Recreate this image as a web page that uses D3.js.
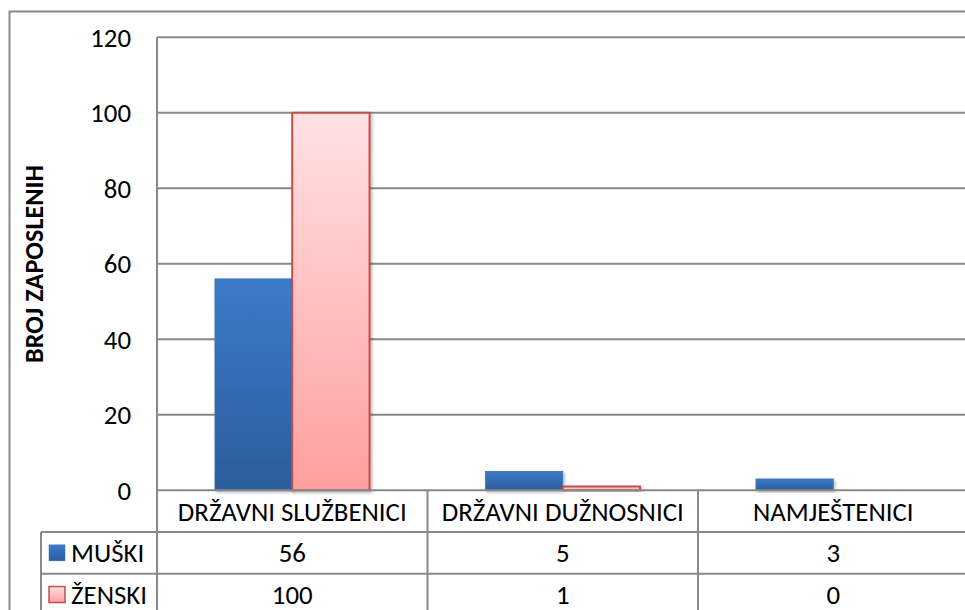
<!DOCTYPE html>
<html>
<head>
<meta charset="utf-8">
<script src="https://cdn.jsdelivr.net/npm/d3@7"></script>
<style>
  html, body { margin: 0; padding: 0; background: #fff; overflow: hidden; }
  svg { display: block; }
  text { font-family: Carlito, Lato, "Open Sans", sans-serif; fill: #000; }
</style>
</head>
<body>
<svg id="chart" width="965" height="610"></svg>
<script>
const categories = ["DRŽAVNI SLUŽBENICI", "DRŽAVNI DUŽNOSNICI", "NAMJEŠTENICI"];
const seriesNames = ["MUŠKI", "ŽENSKI"];
const muski = [56, 5, 3];
const zenski = [100, 1, 0];
const yTicks = [0, 20, 40, 60, 80, 100, 120];
const yTitle = "BROJ ZAPOSLENIH";

const seriesValues = [muski, zenski];
const svg = d3.select("#chart");
const W = 965, H = 610;

const plotLeft = 157, plotTop = 37.3, plotBottom = 490.3, catW = 270.5;
const rowH = 41.7;
const legendLeft = 41;
const gridColor = "#898989";

const y = d3.scaleLinear().domain([0, 120]).range([plotBottom, plotTop]);
const x = d3.scaleBand().domain(categories).range([plotLeft, plotLeft + catW * categories.length]).paddingInner(0).paddingOuter(0);
const xs = d3.scaleBand().domain(seriesNames).range([0, x.bandwidth()]).paddingInner(0).paddingOuter(0.75);

const defs = svg.append("defs");
const gBlue = defs.append("linearGradient").attr("id", "gBlue").attr("x1", 0).attr("y1", 0).attr("x2", 0).attr("y2", 1);
gBlue.append("stop").attr("offset", 0).attr("stop-color", "#3b7bca");
gBlue.append("stop").attr("offset", 1).attr("stop-color", "#2c5d9b");
const gPink = defs.append("linearGradient").attr("id", "gPink").attr("x1", 0).attr("y1", 0).attr("x2", 0).attr("y2", 1);
gPink.append("stop").attr("offset", 0).attr("stop-color", "#ffe1e3");
gPink.append("stop").attr("offset", 1).attr("stop-color", "#ff9f9f");
const sh = defs.append("filter").attr("id", "shadow").attr("x", "-20%").attr("y", "-20%").attr("width", "140%").attr("height", "140%");
sh.append("feDropShadow").attr("dx", 1.5).attr("dy", 1.5).attr("stdDeviation", 1.5).attr("flood-color", "#000").attr("flood-opacity", 0.3);

const fills = ["url(#gBlue)", "url(#gPink)"];
const strokes = ["#3c72b4", "#c0504d"];
const strokeW = [0.8, 2];

// outer chart border
svg.append("rect").attr("x", 9.5).attr("y", 11.5).attr("width", W + 20).attr("height", H + 20)
  .attr("fill", "none").attr("stroke", gridColor).attr("stroke-width", 2);

// gridlines
svg.append("g").selectAll("line").data(yTicks.filter(d => d > 0)).join("line")
  .attr("x1", plotLeft).attr("x2", W + 10)
  .attr("y1", d => y(d)).attr("y2", d => y(d))
  .attr("stroke", gridColor).attr("stroke-width", 2);

// bars
const bars = svg.append("g");
seriesNames.forEach((s, si) => {
  bars.append("g").selectAll("rect").data(categories.map((c, ci) => ({c, v: seriesValues[si][ci]})).filter(d => d.v > 0)).join("rect")
    .attr("x", d => x(d.c) + xs(s))
    .attr("y", d => y(d.v))
    .attr("width", xs.bandwidth())
    .attr("height", d => y(0) - y(d.v))
    .attr("fill", fills[si])
    .attr("stroke", strokes[si])
    .attr("stroke-width", strokeW[si])
    .attr("filter", "url(#shadow)");
});

// table lines
const tbl = svg.append("g").attr("stroke", gridColor).attr("stroke-width", 2);
// axis baseline / table top
tbl.append("line").attr("x1", plotLeft).attr("x2", W + 10).attr("y1", plotBottom).attr("y2", plotBottom);
// row lines
[1, 2].forEach(r => {
  tbl.append("line").attr("x1", legendLeft).attr("x2", W + 10)
    .attr("y1", plotBottom + rowH * r).attr("y2", plotBottom + rowH * r);
});
// left axis line
tbl.append("line").attr("x1", plotLeft).attr("x2", plotLeft).attr("y1", plotTop).attr("y2", H + 10);
// category separators
categories.slice(1).forEach(c => {
  tbl.append("line").attr("x1", x(c)).attr("x2", x(c)).attr("y1", plotBottom).attr("y2", H + 10);
});
// legend column left line
tbl.append("line").attr("x1", legendLeft).attr("x2", legendLeft).attr("y1", plotBottom + rowH).attr("y2", H + 10);

// y tick labels
const tickG = svg.append("g").selectAll("text").data(yTicks).join("text")
  .attr("x", 131).attr("y", d => y(d)).attr("dy", "0.35em")
  .attr("text-anchor", "end").text(d => d);

// category labels
const catText = svg.append("g").selectAll("text").data(categories).join("text")
  .attr("x", d => x(d) + x.bandwidth() / 2).attr("y", plotBottom + rowH / 2).attr("dy", "0.35em")
  .attr("text-anchor", "middle").text(d => d);

// values in table
const valText = svg.append("g");
seriesNames.forEach((s, si) => {
  valText.append("g").selectAll("text").data(categories.map((c, ci) => ({c, v: seriesValues[si][ci]}))).join("text")
    .attr("x", d => x(d.c) + x.bandwidth() / 2)
    .attr("y", plotBottom + rowH * (si + 1) + rowH / 2).attr("dy", "0.35em")
    .attr("text-anchor", "middle").text(d => d.v);
});

// legend keys and names
const keySize = 16;
seriesNames.forEach((s, si) => {
  const cy = plotBottom + rowH * (si + 1) + rowH / 2;
  svg.append("rect").attr("x", 49).attr("y", cy - keySize / 2).attr("width", keySize).attr("height", keySize)
    .attr("fill", fills[si]).attr("stroke", strokes[si]).attr("stroke-width", si === 1 ? 1.5 : 0.5);
  svg.append("text").attr("class", "legtext").attr("x", 71).attr("y", cy).attr("dy", "0.35em").text(s);
});

// y title
const title = svg.append("text").attr("transform", "translate(34,264) rotate(-90)")
  .attr("text-anchor", "middle").attr("dy", "0.35em").attr("font-weight", "bold").text(yTitle);

// fit font sizes to the reference text widths
function fit(sel, targetWidth, base) {
  sel.attr("font-size", base);
  const w = sel.node().getComputedTextLength();
  return base * targetWidth / w;
}
const allText = svg.selectAll("text").filter(function() { return this !== title.node(); });
const fsMain = fit(catText.filter((d, i) => i === 0), 229, 20);
allText.attr("font-size", fsMain);
const fsTitle = fit(title, 198, 20);
title.attr("font-size", fsTitle);
</script>
</body>
</html>
